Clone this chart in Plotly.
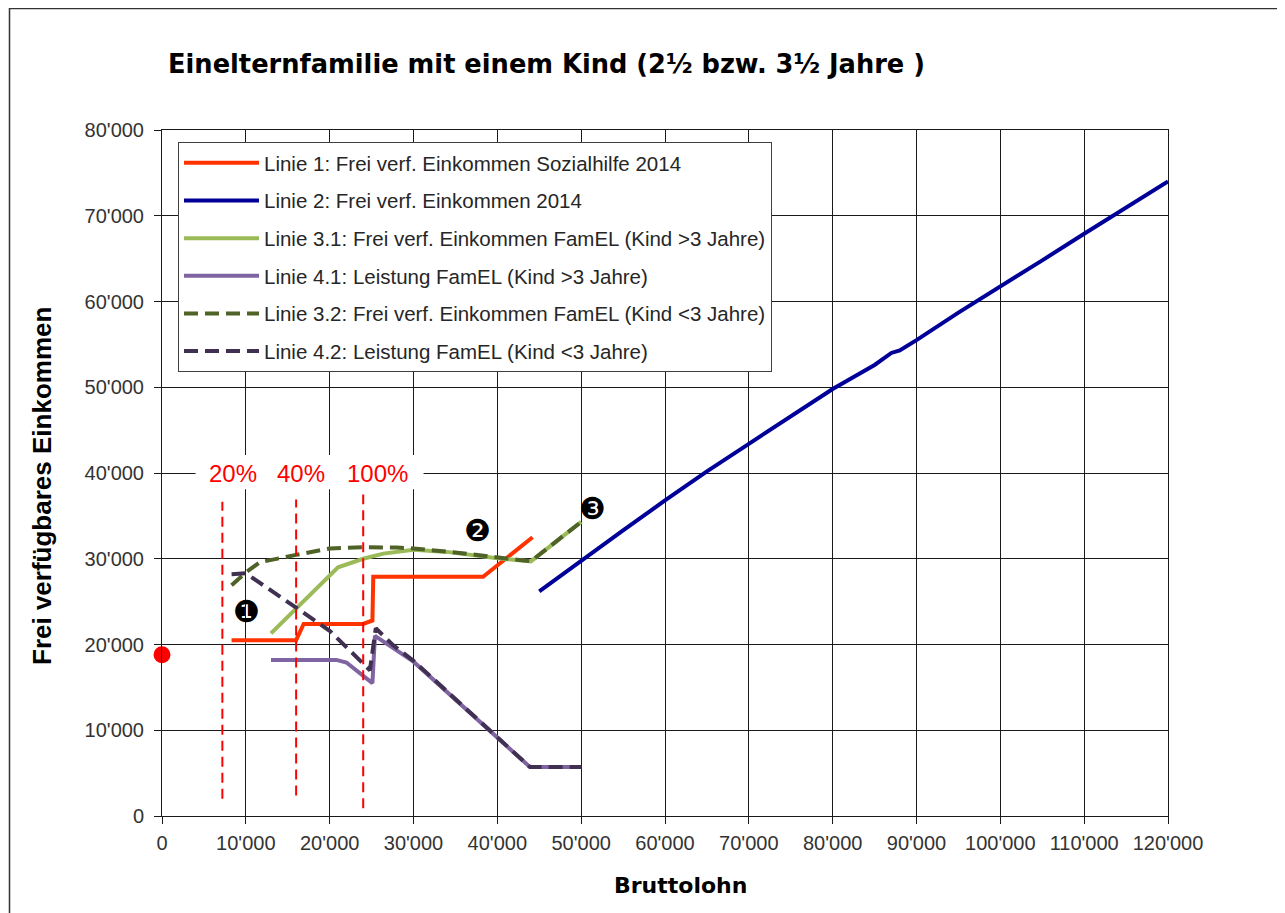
import plotly.graph_objects as go

# Linie 1: Frei verf. Einkommen Sozialhilfe 2014
sozialhilfe_x = [8300, 16000, 16900, 24000, 25100, 25200, 38300, 44200]
sozialhilfe_y = [20500, 20500, 22400, 22400, 22800, 27900, 27900, 32500]

# Linie 2: Frei verf. Einkommen 2014
einkommen_x = [45000, 50000, 55000, 60000, 65000, 70000, 75000, 80000, 85000,
               87000, 88000, 90000, 95000, 100000, 105000, 110000, 115000, 120000]
einkommen_y = [26200, 29800, 33300, 36800, 40200, 43400, 46600, 49800, 52600,
               54000, 54300, 55500, 58700, 61700, 64800, 67900, 71000, 74000]

# Linie 3.1: Frei verf. Einkommen FamEL (Kind >3 Jahre)
famel31_x = [13000, 21000, 24000, 26400, 30000, 34000, 40000, 44000, 50000]
famel31_y = [21300, 29000, 30000, 30600, 31050, 30800, 30050, 29700, 34300]

# Linie 4.1: Leistung FamEL (Kind >3 Jahre)
leistung41_x = [13000, 20800, 22000, 23200, 25100, 25400, 30000, 43900, 50000]
leistung41_y = [18200, 18200, 17900, 17000, 15500, 21000, 18000, 5700, 5700]

# Linie 3.2: Frei verf. Einkommen FamEL (Kind <3 Jahre)
famel32_x = [8300, 10100, 11700, 14000, 16000, 20000, 24000, 28000, 30000, 34400, 40000, 44000, 50000]
famel32_y = [26900, 28500, 29600, 30100, 30450, 31200, 31350, 31300, 31200, 30800, 30100, 29700, 34300]

# Linie 4.2: Leistung FamEL (Kind <3 Jahre)
leistung42_x = [8300, 10000, 16000, 20000, 24800, 25500, 27600, 30000, 43900, 50000]
leistung42_y = [28200, 28300, 24300, 21600, 17000, 21900, 19900, 18100, 5700, 5700]

# Existenzminimum-Punkt auf der y-Achse
punkt_x = [0]
punkt_y = [18800]

# Schwellen (20%, 40%, 100%)
schwelle_labels = ["20%", "40%", "100%"]
schwelle_x = [7200, 16000, 24000]
schwelle_top = [36650, 36900, 37500]
schwelle_bottom = [2000, 2400, 900]
schwelle_label_x = [8470, 16600, 25650]
schwelle_label_y = 40000

# Markierungen
marker_labels = ["❶", "❷", "❸"]
marker_x = [10100, 37650, 51400]
marker_y = [23800, 33300, 35900]

# page has an 8px body margin, so the figure is sized/shifted to compensate
PAGE_OFF = 8
FIG_W, FIG_H = 1285 - PAGE_OFF, 913 - PAGE_OFF
# plot area in window pixels: x 162..1168, y 130..816
PX0, PX1, PY0, PY1 = 162, 1168, 130, 816


def paper_x(px):
    return (px - PX0) / (PX1 - PX0)


def paper_y(py):
    return (PY1 - py) / (PY1 - PY0)


fig = go.Figure()

series = [
    ("Linie 1: Frei verf. Einkommen Sozialhilfe 2014", sozialhilfe_x, sozialhilfe_y, "#FF3300", "solid"),
    ("Linie 2: Frei verf. Einkommen 2014", einkommen_x, einkommen_y, "#000099", "solid"),
    ("Linie 3.1: Frei verf. Einkommen FamEL (Kind >3 Jahre)", famel31_x, famel31_y, "#9BBB59", "solid"),
    ("Linie 4.1: Leistung FamEL (Kind >3 Jahre)", leistung41_x, leistung41_y, "#8064A2", "solid"),
    ("Linie 3.2: Frei verf. Einkommen FamEL (Kind <3 Jahre)", famel32_x, famel32_y, "#4F6228", "14px,7px"),
    ("Linie 4.2: Leistung FamEL (Kind <3 Jahre)", leistung42_x, leistung42_y, "#403152", "14px,7px"),
]

for i, (name, xs, ys, color, dash) in enumerate(series):
    fig.add_trace(
        go.Scatter(x=xs, y=ys, mode='lines', name=name, legendgroup=str(i),
                   line=dict(color=color, width=4, dash=dash))
    )

# vertical dashed thresholds
for xv, top, bottom in zip(schwelle_x, schwelle_top, schwelle_bottom):
    fig.add_trace(
        go.Scatter(x=[xv, xv], y=[bottom, top], mode='lines', showlegend=False,
                   line=dict(color="#FF0000", width=2, dash="10px,6px"))
    )

fig.add_trace(
    go.Scatter(x=punkt_x, y=punkt_y, mode='markers', showlegend=False, cliponaxis=False,
               marker=dict(color="#FF0000", size=17))
)

# white box behind the percentage labels
fig.add_shape(type="rect", x0=4000, x1=31200, y0=38100, y1=42100, layer="between",
              fillcolor="white", line=dict(width=0))

for label, xv in zip(schwelle_labels, schwelle_label_x):
    fig.add_annotation(x=xv, y=schwelle_label_y, text=label, showarrow=False,
                       font=dict(family="Liberation Sans", size=24, color="#FF0000"))

for label, xv, yv in zip(marker_labels, marker_x, marker_y):
    fig.add_annotation(x=xv, y=yv, text=label, showarrow=False,
                       font=dict(family="DejaVu Sans", size=30, color="black"))

# axis titles
fig.add_annotation(xref="paper", yref="paper", x=paper_x(680), y=paper_y(886),
                   xanchor="center", yanchor="middle",
                   text="<b>Bruttolohn</b>", showarrow=False,
                   font=dict(family="DejaVu Sans", size=22, color="black"))
fig.add_annotation(xref="paper", yref="paper", x=paper_x(42), y=paper_y(486),
                   xanchor="center", yanchor="middle",
                   text="<b>Frei verfügbares Einkommen</b>", showarrow=False, textangle=-90,
                   font=dict(family="Liberation Sans", size=26, color="black"))

# outer frame
fig.add_shape(type="rect", xref="paper", yref="paper",
              x0=paper_x(9.5), x1=paper_x(1300), y0=paper_y(930), y1=paper_y(8.5),
              line=dict(color="#333333", width=1.5))

axis_style = dict(
    showgrid=True, gridcolor="#1a1a1a", gridwidth=1,
    showline=True, linecolor="#1a1a1a", linewidth=1, mirror=True,
    ticks="outside", ticklen=7, tickcolor="#1a1a1a",
    tickfont=dict(family="Liberation Sans", size=20, color="#333333"),
    tickformat=",d", dtick=10000, zeroline=False,
)

fig.update_layout(
    width=FIG_W, height=FIG_H,
    margin=dict(l=PX0 - PAGE_OFF, r=FIG_W - (PX1 - PAGE_OFF),
                t=PY0 - PAGE_OFF, b=FIG_H - (PY1 - PAGE_OFF)),
    paper_bgcolor="white", plot_bgcolor="white",
    separators=".'",
    title=dict(text="<b>Einelternfamilie mit einem Kind (2½ bzw. 3½ Jahre )</b>",
               xref="container", yref="container",
               x=(168 - PAGE_OFF) / FIG_W, xanchor="left",
               y=1 - (64 - PAGE_OFF) / FIG_H, yanchor="middle",
               font=dict(family="DejaVu Sans", size=25.7, color="black")),
    xaxis=dict(range=[0, 120000], ticklabelstandoff=2, **axis_style),
    yaxis=dict(range=[0, 80000], ticklabelstandoff=6, **axis_style),
    legend=dict(
        x=paper_x(178), y=paper_y(142), xanchor="left", yanchor="top",
        bgcolor="white", bordercolor="#404040", borderwidth=1,
        font=dict(family="Liberation Sans", size=20.5, color="#262626"),
        tracegroupgap=8, itemwidth=75,
    ),
)

fig.write_html("out.html")
